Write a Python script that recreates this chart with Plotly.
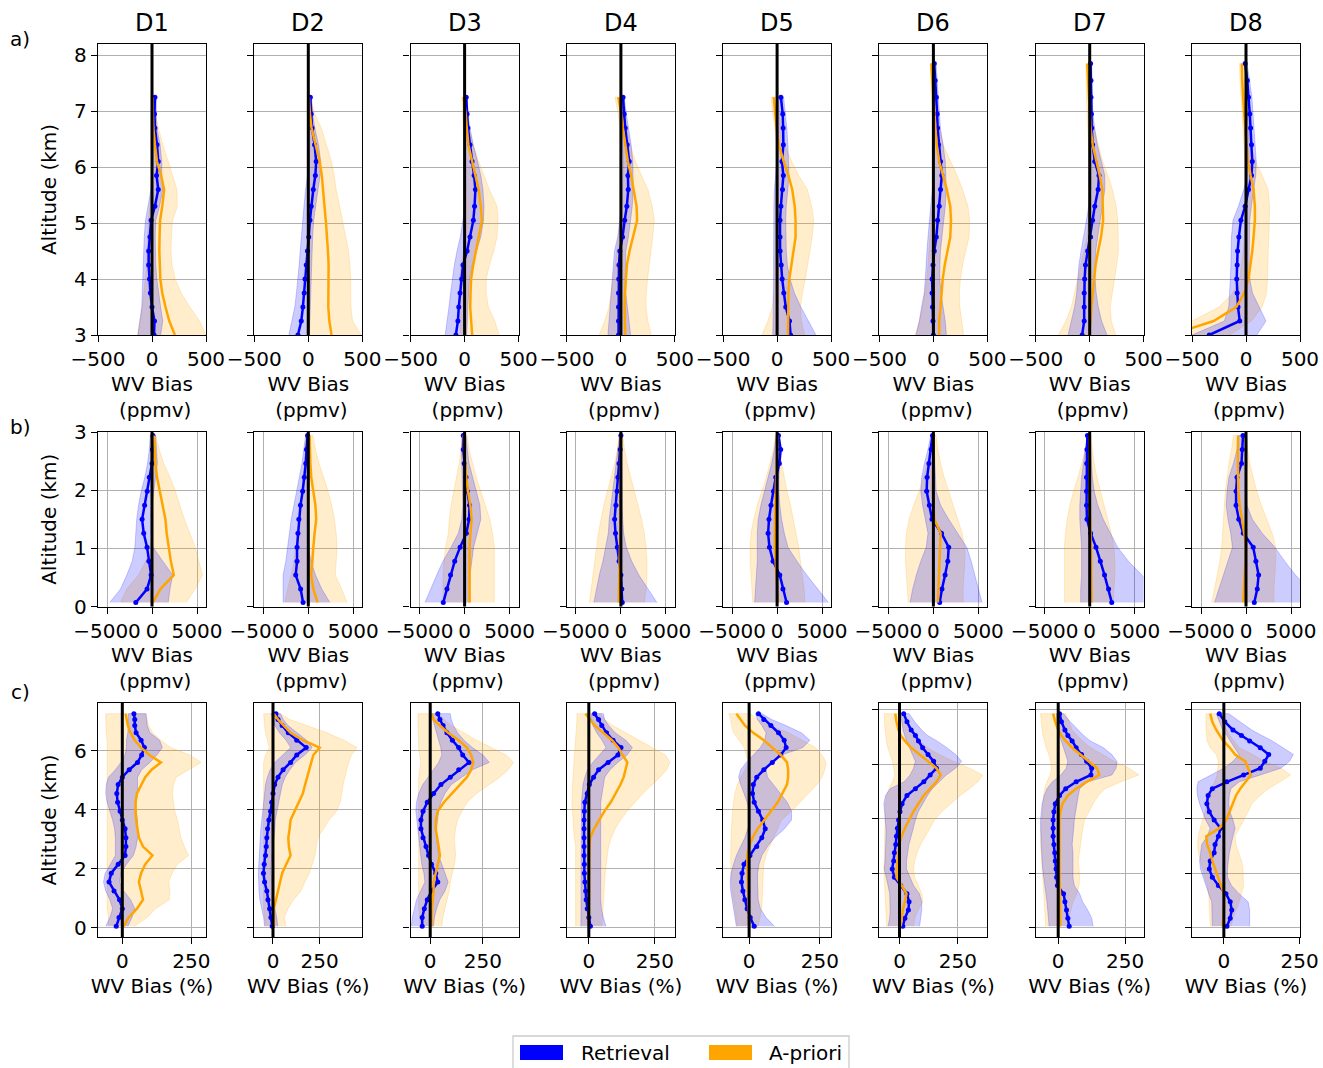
import plotly.graph_objects as go

# ---------------------------------------------------------------- data
DATASETS = ["D1", "D2", "D3", "D4", "D5", "D6", "D7", "D8"]
ROW_LABELS = ["a)", "b)", "c)"]
LEGEND_LABELS = ["Retrieval", "A-priori"]
X_TITLE_PPMV = "WV Bias<br>\u00a0(ppmv)"
X_TITLE_PCT = "WV Bias (%)"
Y_TITLE = "Altitude (km)"

ALT_A_SHORT = [3.0, 3.25, 3.5, 3.75, 4.0, 4.25, 4.5, 4.75, 5.05, 5.3, 5.6, 5.85, 6.1, 6.4, 6.7, 6.95, 7.25]
ALT_A_TALL = [3.0, 3.25, 3.5, 3.75, 4.0, 4.25, 4.5, 4.75, 5.05, 5.3, 5.6, 5.85, 6.1, 6.4, 6.7, 6.95, 7.25, 7.55, 7.85]
ALT_B = [0.07, 0.3, 0.54, 0.78, 1.02, 1.26, 1.5, 1.74, 1.98, 2.22, 2.46, 2.7, 2.94]
ALT_C_SHORT = [0.05, 0.35, 0.65, 0.95, 1.25, 1.55, 1.85, 2.15, 2.45, 2.75, 3.05, 3.35, 3.65, 3.95, 4.25,
               4.55, 4.85, 5.1, 5.35, 5.6, 5.85, 6.1, 6.35, 6.6, 6.85, 7.05, 7.25]
ALT_C_TALL = [0.05, 0.35, 0.65, 0.95, 1.25, 1.55, 1.85, 2.15, 2.45, 2.75, 3.05, 3.35, 3.65, 3.95, 4.25,
              4.55, 4.85, 5.1, 5.35, 5.6, 5.85, 6.1, 6.35, 6.6, 6.85, 7.05, 7.25, 7.55, 7.85]

# ---- row a : 3-8 km, ppmv
A1_RET = [19, 23, 0, -15, -23, -31, -31, -19, -8, 27, 58, 42, 58, 46, 27, 23, 27]
A1_RET_LO = [-130, -110, -95, -90, -85, -80, -78, -72, -60, -35, -10, 0, 10, 15, 10, 10, 12]
A1_RET_HI = [80, 100, 80, 60, 45, 35, 30, 30, 35, 70, 100, 90, 90, 75, 45, 40, 40]
A1_APR = [212, 160, 125, 95, 77, 70, 68, 70, 75, 95, 112, 85, 46, 27, 12, 8, 5]
A1_APR_LO = [-135, -110, -90, -75, -60, -50, -45, -40, -35, -20, -5, 0, 0, -5, -10, -10, -10]
A1_APR_HI = [500, 440, 350, 270, 215, 185, 175, 180, 190, 235, 230, 190, 150, 100, 60, 30, 15]

A2_RET = [-96, -65, -50, -38, -31, -19, -8, 4, 15, 27, 46, 65, 73, 58, 35, 27, 19]
A2_RET_LO = [-180, -150, -125, -110, -95, -85, -75, -65, -55, -40, -25, -10, 10, 15, 10, 5, 5]
A2_RET_HI = [10, 10, 15, 20, 25, 30, 35, 40, 50, 65, 90, 110, 115, 95, 60, 40, 30]
A2_APR = [215, 195, 185, 188, 190, 188, 182, 175, 162, 150, 140, 125, 105, 70, 30, 15, 5]
A2_APR_LO = [-20, -15, -5, 0, 5, 10, 10, 10, 10, 10, 10, 10, 10, 5, 0, 0, 0]
A2_APR_HI = [490, 410, 395, 393, 393, 385, 373, 350, 316, 290, 258, 240, 215, 165, 120, 60, 20]

A3_RET = [-81, -62, -54, -42, -27, -15, 23, 50, 81, 92, 100, 88, 69, 50, 31, 23, 15]
A3_RET_LO = [-180, -160, -145, -130, -115, -95, -70, -40, -15, 0, 10, 10, 10, 5, 5, 5, 5]
A3_RET_HI = [20, 25, 30, 35, 45, 70, 110, 150, 175, 180, 170, 150, 120, 80, 50, 30, 25]
A3_APR = [70, 58, 52, 55, 60, 80, 105, 135, 160, 150, 130, 100, 70, 35, 20, 10, -10]
A3_APR_LO = [-40, -40, -45, -45, -45, -30, -10, 10, 20, 20, 15, 5, 0, -5, -10, -20, -25]
A3_APR_HI = [320, 280, 220, 200, 200, 230, 270, 300, 310, 300, 230, 180, 130, 80, 40, 20, 10]

A4_RET = [-22, -22, -22, -22, -20, -18, -10, 15, 35, 55, 68, 65, 77, 58, 40, 30, 20]
A4_RET_LO = [-120, -110, -100, -90, -85, -75, -60, -30, -10, 5, 15, 20, 20, 15, 10, 10, 10]
A4_RET_HI = [90, 75, 60, 45, 40, 40, 45, 70, 90, 105, 115, 110, 110, 95, 70, 50, 30]
A4_APR = [40, 35, 35, 38, 45, 55, 80, 115, 150, 145, 120, 95, 65, 40, 18, 5, -25]
A4_APR_LO = [-200, -150, -110, -90, -70, -55, -40, -20, 0, 10, 10, 5, 0, -5, -10, -25, -55]
A4_APR_HI = [280, 250, 232, 235, 247, 262, 278, 295, 309, 290, 250, 190, 135, 85, 55, 30, 5]

A5_RET = [125, 115, 80, 62, 47, 38, 28, 27, 27, 35, 50, 58, 45, 58, 56, 52, 35]
A5_RET_LO = [-40, -35, -35, -35, -35, -35, -35, -35, -35, -30, -25, -15, -5, 10, 15, 15, 15]
A5_RET_HI = [360, 290, 220, 160, 120, 95, 85, 80, 80, 85, 100, 110, 105, 100, 90, 80, 60]
A5_APR = [101, 101, 101, 105, 113, 132, 152, 171, 171, 163, 140, 105, 62, 15, -4, -15, -31]
A5_APR_LO = [-140, -85, -45, -30, -23, -22, -22, -20, -18, -15, -10, -5, 0, -5, -20, -40, -55]
A5_APR_HI = [255, 225, 215, 235, 260, 285, 305, 325, 340, 320, 280, 200, 135, 70, 40, 20, 5]

A6_RET = [0, -4, -8, -12, -12, -4, 8, 27, 39, 54, 66, 78, 66, 47, 39, 35, 27, 16, 8]
A6_RET_LO = [-160, -130, -110, -85, -75, -70, -60, -50, -40, -25, -10, 0, 10, 10, 5, 0, 0, -5, -5]
A6_RET_HI = [120, 110, 90, 70, 60, 60, 65, 80, 95, 110, 120, 115, 110, 90, 65, 55, 45, 35, 25]
A6_APR = [54, 54, 66, 74, 86, 105, 132, 156, 163, 156, 124, 86, 54, 31, 16, 8, 0, -12, -19]
A6_APR_LO = [-170, -130, -100, -80, -60, -50, -40, -30, -20, -10, 0, 5, 5, 0, -5, -10, -15, -25, -30]
A6_APR_HI = [280, 260, 245, 240, 250, 270, 300, 330, 335, 320, 270, 220, 160, 90, 55, 35, 20, 10, 0]

A7_RET = [-70, -51, -51, -51, -47, -39, -19, 8, 27, 47, 78, 86, 47, 27, 19, 16, 12, 12, 8]
A7_RET_LO = [-200, -170, -140, -120, -110, -100, -80, -55, -30, -10, 10, 15, 10, 0, -5, -5, -5, -5, -5]
A7_RET_HI = [160, 110, 80, 60, 50, 50, 55, 75, 95, 115, 140, 140, 110, 70, 45, 30, 25, 20, 20]
A7_APR = [-8, 8, 16, 27, 39, 54, 78, 105, 124, 124, 117, 93, 66, 27, 8, 0, -8, -16, -23]
A7_APR_LO = [-290, -220, -170, -140, -110, -80, -50, -25, -10, 0, 5, 5, 0, -10, -20, -25, -30, -35, -35]
A7_APR_HI = [240, 200, 190, 210, 230, 250, 265, 265, 260, 245, 210, 170, 120, 80, 45, 25, 15, 5, 0]

A8_RET = [-340, -58, -74, -82, -86, -82, -78, -66, -47, -8, 23, 51, 58, 51, 43, 35, 23, 12, -8]
A8_RET_LO = [-500, -200, -160, -150, -145, -140, -140, -135, -120, -70, -20, 10, 20, 25, 20, 15, 5, -5, -15]
A8_RET_HI = [100, 185, 120, 60, 35, 30, 30, 30, 35, 50, 70, 90, 95, 85, 75, 65, 55, 35, 10]
A8_APR = [-700, -300, -90, -16, 23, 43, 58, 70, 82, 82, 70, 43, 19, 4, -8, -19, -27, -35, -39]
A8_APR_LO = [-900, -500, -250, -120, -60, -40, -25, -15, -5, 0, 0, 0, -10, -20, -30, -35, -45, -55, -60]
A8_APR_HI = [-150, 50, 150, 190, 200, 205, 206, 212, 218, 218, 205, 150, 90, 40, 20, 10, 0, -10, -20]

# ---- row b : 0-3 km, ppmv
B1_RET = [-1800, -550, -100, -350, -550, -920, -1100, -820, -530, -300, 0, 50, 100]
B1_RET_LO = [-4700, -3500, -2800, -2200, -1900, -1800, -1700, -1500, -1200, -800, -500, -300, -200]
B1_RET_HI = [1800, 2000, 2300, 1200, 100, -100, -200, 0, 200, 400, 600, 500, 400]
B1_APR = [93, 930, 2420, 2090, 1860, 1630, 1490, 1160, 840, 560, 370, 280, 230]
B1_APR_LO = [-3500, -2800, -1500, -700, -200, 0, 100, 0, -100, -200, -200, -150, -100]
B1_APR_HI = [3800, 4800, 5600, 5200, 4800, 4200, 3600, 3100, 2600, 2000, 1300, 800, 400]

B2_RET = [-580, -850, -1400, -1250, -1250, -1150, -1050, -870, -630, -450, -280, -200, -80]
B2_RET_LO = [-2800, -2800, -2800, -2500, -2300, -2100, -1900, -1600, -1300, -1000, -700, -500, -300]
B2_RET_HI = [2400, 1500, 800, 300, 0, -100, -100, -50, 50, 150, 200, 200, 150]
B2_APR = [1020, 560, 330, 420, 560, 700, 880, 790, 560, 330, 230, 190, 140]
B2_APR_LO = [-2600, -2300, -1900, -1600, -1400, -1200, -1000, -850, -700, -550, -400, -300, -200]
B2_APR_HI = [4300, 3700, 3000, 3100, 3200, 3100, 2900, 2600, 2200, 1700, 1200, 800, 500]

B3_RET = [-2370, -1960, -1560, -1100, -500, 200, 500, 550, 300, 150, -50, -150, -150]
B3_RET_LO = [-4400, -3800, -3100, -2400, -1500, -700, -300, -200, -250, -300, -350, -350, -300]
B3_RET_HI = [600, 600, 600, 800, 1000, 1400, 1800, 1700, 1300, 900, 500, 300, 150]
B3_APR = [550, 550, 550, 550, 560, 650, 780, 650, 370, 190, 50, -50, -90]
B3_APR_LO = [-2400, -2400, -2400, -2300, -2100, -1800, -1700, -1500, -1200, -900, -600, -400, -200]
B3_APR_HI = [3300, 3300, 3300, 3300, 3300, 3100, 2800, 2300, 1800, 1300, 900, 500, 300]

B4_RET = [150, 100, 0, -200, -400, -600, -700, -550, -420, -330, -200, -80, 0]
B4_RET_LO = [-3000, -2700, -2400, -2000, -1700, -1400, -1300, -1100, -900, -700, -500, -300, -150]
B4_RET_HI = [4000, 3000, 2000, 1200, 600, 300, 200, 150, 150, 150, 150, 100, 100]
B4_APR = [-250, -200, -150, -100, -80, -60, -50, -40, -30, -20, -10, 0, 0]
B4_APR_LO = [-3500, -3300, -3100, -2900, -2700, -2500, -2200, -1900, -1500, -1100, -700, -400, -200]
B4_APR_HI = [2600, 2800, 2900, 2900, 2800, 2600, 2300, 1900, 1500, 1100, 700, 400, 200]

B5_RET = [1050, 650, 300, -450, -850, -1000, -900, -680, -400, -150, 250, 400, 150]
B5_RET_LO = [-2500, -2400, -2300, -2200, -2200, -2200, -2100, -1800, -1400, -1000, -600, -300, -100]
B5_RET_HI = [5700, 4500, 3300, 2200, 1200, 800, 500, 300, 200, 200, 300, 400, 300]
B5_APR = [100, 0, -100, -200, -250, -250, -250, -200, -150, -100, -50, 0, 50]
B5_APR_LO = [-2700, -2800, -2900, -3000, -3000, -2900, -2600, -2200, -1700, -1200, -800, -400, -200]
B5_APR_HI = [3100, 3000, 2800, 2600, 2400, 2100, 1800, 1500, 1100, 800, 500, 300, 150]

B6_RET = [700, 950, 1300, 1600, 1700, 900, -150, -450, -750, -700, -500, -250, -100]
B6_RET_LO = [-2600, -2300, -1900, -1400, -800, -600, -900, -1200, -1400, -1300, -1000, -600, -300]
B6_RET_HI = [5400, 5000, 4600, 4200, 3700, 2700, 1700, 800, 300, 200, 150, 100, 50]
B6_APR = [500, 550, 600, 650, 700, 800, 100, 0, -50, -50, -20, 0, 20]
B6_APR_LO = [-2800, -2900, -3000, -3100, -3100, -3000, -2700, -2200, -1600, -1100, -700, -400, -200]
B6_APR_HI = [3300, 3300, 3400, 3500, 3500, 3200, 2700, 2200, 1700, 1200, 800, 500, 300]

B7_RET = [2450, 2100, 1650, 1180, 700, 100, -300, -350, -350, -350, -330, -300, -250]
B7_RET_LO = [-1000, -1000, -900, -900, -900, -1000, -1100, -1100, -1000, -900, -700, -500, -300]
B7_RET_HI = [8000, 7000, 5800, 4300, 3100, 2300, 1500, 900, 500, 300, 200, 100, 50]
B7_APR = [200, 200, 200, 200, 150, 100, 50, 0, -50, -50, -50, -30, 0]
B7_APR_LO = [-2800, -2800, -2800, -2800, -2800, -2700, -2500, -2200, -1800, -1300, -900, -500, -250]
B7_APR_HI = [2600, 2700, 2800, 2800, 2700, 2400, 2000, 1600, 1200, 800, 500, 300, 150]

B8_RET = [920, 1250, 1400, 1100, 800, -300, -800, -1100, -1100, -1000, -500, -420, -330]
B8_RET_LO = [-3500, -3000, -2500, -2000, -1500, -1700, -2000, -2200, -2100, -1900, -1400, -1000, -800]
B8_RET_HI = [8000, 7000, 5500, 4300, 3200, 1800, 700, 100, 0, 0, 100, 100, 100]
B8_APR = [-300, -250, -150, -50, 0, -200, -450, -700, -850, -900, -900, -900, -880]
B8_APR_LO = [-3800, -3500, -3200, -2900, -2700, -2600, -2500, -2400, -2300, -2100, -1900, -1600, -1400]
B8_APR_HI = [3100, 3100, 3200, 3300, 3300, 2900, 2300, 1700, 1200, 800, 400, 200, 0]

# ---- row c : 0-8 km, percent
C1_RET = [-22, -12, 0, -10, -30, -48, -40, -15, 10, 13, 13, 10, 0, -8, -17, -20, -15, 0, 25, 55, 70, 80, 68, 50, 45, 45, 42]
C1_RET_LO = [-60, -45, -35, -45, -60, -68, -62, -45, -25, -25, -25, -28, -35, -45, -55, -60, -58, -50, -25, -5, 10, 15, 15, 20, 22, 22, 22]
C1_RET_HI = [20, 35, 45, 30, 5, -10, -5, 15, 40, 50, 55, 55, 55, 50, 50, 55, 55, 55, 70, 100, 125, 145, 135, 100, 90, 88, 85]
C1_APR = [5, 23, 53, 75, 68, 60, 68, 83, 109, 75, 60, 55, 50, 48, 48, 53, 68, 83, 106, 140, 98, 68, 45, 30, 20, 15, 12]
C1_APR_LO = [-50, -50, -55, -55, -55, -55, -55, -55, -55, -55, -55, -55, -55, -55, -55, -55, -55, -55, -55, -55, -55, -55, -55, -58, -60, -60, -60]
C1_APR_HI = [45, 90, 120, 170, 172, 168, 180, 200, 240, 225, 212, 205, 200, 190, 185, 182, 185, 195, 240, 285, 245, 175, 140, 110, 95, 90, 88]

C2_RET = [-4, -11, -18, -27, -33, -45, -51, -47, -40, -36, -33, -29, -22, -13, -7, 0, 9, 27, 54, 94, 127, 178, 127, 82, 49, 27, 16]
C2_RET_LO = [-45, -50, -60, -70, -75, -78, -78, -76, -72, -70, -68, -65, -60, -55, -50, -45, -40, -30, -15, 10, 50, 95, 70, 35, 10, 0, -10]
C2_RET_HI = [25, 20, 10, 5, 0, -5, -10, -10, -5, 0, 5, 10, 12, 20, 30, 40, 50, 65, 90, 120, 170, 210, 180, 130, 80, 55, 40]
C2_APR = [4, 4, 4, 16, 27, 38, 49, 71, 94, 85, 82, 89, 94, 116, 138, 160, 172, 183, 194, 205, 216, 250, 160, 94, 54, 27, 4]
C2_APR_LO = [-40, -45, -50, -50, -50, -50, -50, -50, -50, -50, -50, -50, -50, -50, -50, -50, -50, -50, -50, -50, -40, -20, -30, -40, -45, -48, -50]
C2_APR_HI = [70, 60, 80, 110, 150, 170, 195, 210, 225, 232, 240, 270, 300, 340, 360, 368, 375, 385, 395, 405, 420, 450, 380, 290, 180, 90, 40]

C3_RET = [-38, -38, -28, -14, 6, 36, 26, 6, -8, -20, -34, -44, -44, -34, -14, 16, 51, 95, 135, 184, 154, 135, 105, 79, 61, 46, 36]
C3_RET_LO = [-90, -85, -75, -65, -45, -25, -30, -40, -45, -50, -55, -60, -65, -68, -65, -55, -35, -10, 15, 40, 55, 50, 40, 30, 20, 12, 8]
C3_RET_HI = [15, 20, 30, 45, 70, 85, 70, 55, 40, 35, 30, 30, 35, 40, 50, 70, 100, 150, 200, 280, 250, 200, 160, 130, 110, 100, 95]
C3_APR = [6, 6, 8, 12, 16, 16, 26, 36, 46, 40, 34, 26, 26, 36, 65, 105, 145, 174, 194, 204, 194, 174, 135, 85, 46, 16, 6]
C3_APR_LO = [-45, -50, -55, -55, -55, -55, -55, -55, -55, -55, -55, -55, -55, -55, -55, -55, -55, -55, -50, -45, -50, -55, -55, -58, -58, -58, -58]
C3_APR_HI = [55, 60, 70, 80, 90, 95, 105, 115, 120, 118, 115, 120, 130, 150, 175, 220, 280, 330, 370, 395, 360, 290, 220, 160, 100, 65, 40]

C4_RET = [6, 0, -6, -10, -12, -15, -17, -17, -18, -18, -18, -18, -18, -17, -15, -6, 2, 18, 37, 73, 110, 122, 92, 67, 49, 37, 22]
C4_RET_LO = [-30, -30, -30, -30, -30, -30, -30, -30, -30, -30, -30, -30, -30, -30, -28, -25, -22, -15, -5, 15, 40, 65, 50, 30, 15, 10, 10]
C4_RET_HI = [65, 55, 48, 45, 45, 45, 45, 45, 45, 45, 45, 45, 45, 45, 45, 50, 55, 60, 80, 110, 145, 165, 140, 100, 75, 60, 55]
C4_APR = [0, 0, 0, 0, 0, 0, 0, 1, 2, 3, 5, 20, 38, 59, 83, 102, 120, 132, 140, 146, 128, 112, 88, 55, 22, 5, -13]
C4_APR_LO = [-50, -50, -50, -50, -50, -50, -50, -50, -50, -50, -55, -58, -60, -62, -64, -64, -62, -60, -58, -55, -52, -50, -50, -48, -46, -45, -45]
C4_APR_HI = [50, 52, 55, 56, 58, 60, 62, 65, 70, 75, 85, 100, 120, 145, 175, 205, 240, 270, 295, 307, 290, 240, 190, 140, 90, 60, 45]

C5_RET = [18, 4, -7, -15, -22, -27, -25, -18, 3, 27, 45, 57, 48, 33, 18, 12, 15, 27, 52, 82, 112, 131, 124, 104, 77, 52, 33]
C5_RET_LO = [-45, -50, -55, -60, -65, -67, -64, -55, -45, -30, -15, -5, 5, 0, -7, -18, -30, -37, -30, -10, 15, 40, 55, 60, 45, 30, 22]
C5_RET_HI = [90, 60, 40, 32, 30, 30, 30, 35, 45, 65, 90, 125, 150, 150, 135, 110, 85, 65, 60, 75, 115, 190, 215, 185, 130, 80, 45]
C5_APR = [0, -1, -2, -3, -4, -5, -5, -5, -7, 0, 12, 30, 52, 77, 101, 119, 134, 138, 138, 134, 112, 82, 52, 15, -15, -30, -45]
C5_APR_LO = [-42, -45, -50, -55, -60, -62, -64, -65, -65, -65, -65, -63, -60, -59, -55, -50, -42, -30, -15, -3, -10, -18, -35, -55, -62, -65, -72]
C5_APR_HI = [32, 38, 45, 48, 49, 49, 50, 52, 60, 72, 85, 100, 115, 150, 180, 210, 240, 258, 268, 272, 258, 235, 190, 140, 70, 30, 5]

C6_RET = [14, 23, 38, 41, 32, 5, -22, -31, -25, -22, -16, -13, -9, -4, 2, 11, 32, 68, 104, 131, 158, 146, 122, 99, 81, 68, 50, 32, 18]
C6_RET_LO = [-49, -42, -40, -40, -42, -49, -58, -65, -62, -60, -58, -58, -58, -60, -63, -67, -60, -40, 20, 45, 60, 68, 55, 41, 30, 22, 15, 10, 5]
C6_RET_HI = [86, 90, 95, 95, 85, 60, 45, 30, 30, 35, 40, 50, 60, 68, 80, 100, 120, 140, 170, 200, 240, 266, 240, 203, 160, 120, 95, 65, 41]
C6_APR = [5, 9, 14, 23, 30, 9, -13, -13, -9, -4, 0, 9, 23, 41, 59, 81, 104, 131, 158, 176, 158, 122, 86, 50, 23, 5, -4, -13, -18]
C6_APR_LO = [-55, -57, -58, -60, -62, -65, -67, -67, -66, -65, -65, -64, -63, -62, -61, -60, -55, -45, -30, -20, -25, -30, -40, -50, -56, -60, -62, -64, -65]
C6_APR_HI = [60, 65, 80, 100, 95, 80, 65, 60, 65, 75, 90, 110, 130, 150, 180, 220, 260, 300, 335, 355, 300, 230, 170, 120, 85, 65, 50, 35, 20]

C7_RET = [41, 36, 31, 25, 20, -3, -6, -8, -11, -13, -16, -19, -19, -19, -16, -11, 5, 28, 67, 122, 125, 106, 87, 67, 52, 36, 25, 12, 5]
C7_RET_LO = [-34, -36, -38, -42, -46, -50, -55, -58, -60, -62, -64, -65, -66, -66, -64, -60, -52, -42, -22, 10, 30, 36, 28, 20, 10, 4, -2, -5, -6]
C7_RET_HI = [130, 125, 110, 91, 80, 60, 55, 55, 55, 55, 52, 55, 58, 60, 65, 70, 75, 80, 110, 200, 216, 219, 200, 169, 120, 95, 75, 45, 20]
C7_APR = [8, 8, 7, 7, 6, 6, 5, 5, 5, 5, 5, 3, 3, 5, 8, 16, 36, 67, 106, 153, 145, 114, 83, 52, 28, 12, 0, -11, -19]
C7_APR_LO = [-47, -48, -50, -52, -54, -56, -58, -60, -62, -64, -66, -65, -63, -62, -60, -58, -55, -50, -42, -30, -25, -28, -35, -45, -52, -57, -60, -64, -66]
C7_APR_HI = [36, 40, 48, 55, 70, 78, 80, 78, 75, 78, 83, 88, 92, 98, 115, 130, 150, 175, 235, 301, 265, 208, 165, 122, 90, 70, 52, 40, 28]

C8_RET = [10, 21, 26, 21, 7, -18, -38, -48, -45, -32, -29, -18, -11, -32, -48, -56, -52, -38, 10, 65, 120, 135, 148, 120, 85, 58, 30, 3, -15]
C8_RET_LO = [-38, -38, -38, -40, -50, -59, -70, -77, -80, -76, -73, -55, -45, -60, -70, -80, -87, -89, -85, -45, 0, 30, 50, 35, 22, 10, -4, -15, -25]
C8_RET_HI = [85, 85, 85, 80, 50, 25, 12, 12, 15, 18, 23, 30, 37, 30, 20, 16, 18, 23, 51, 120, 188, 216, 229, 195, 160, 125, 92, 55, 16]
C8_APR = [-4, -2, 0, 2, 0, -10, -20, -30, -38, -45, -55, -58, -15, 8, 18, 28, 40, 54, 70, 89, 80, 71, 37, 20, -2, -15, -25, -38, -45]
C8_APR_LO = [-45, -46, -47, -48, -50, -55, -62, -70, -78, -84, -87, -84, -78, -70, -62, -55, -48, -40, -30, -22, -20, -18, -25, -45, -55, -58, -59, -59, -59]
C8_APR_HI = [23, 30, 40, 51, 58, 65, 65, 63, 58, 50, 40, 37, 50, 65, 80, 92, 120, 147, 185, 220, 190, 133, 95, 51, 35, 20, 10, -5, -18]

# ---- axis ticks (data values)
TICKS_A_X = [-500, 0, 500]
TICKS_A_Y = [3, 4, 5, 6, 7, 8]
TICKS_B_X = [-5000, 0, 5000]
TICKS_B_Y = [0, 1, 2, 3]
TICKS_C_X = [0, 250]
TICKS_C_Y = [0, 2, 4, 6, 8]

# ---------------------------------------------------------------- assembly
ROW_A = [
    (A1_RET, A1_RET_LO, A1_RET_HI, A1_APR, A1_APR_LO, A1_APR_HI),
    (A2_RET, A2_RET_LO, A2_RET_HI, A2_APR, A2_APR_LO, A2_APR_HI),
    (A3_RET, A3_RET_LO, A3_RET_HI, A3_APR, A3_APR_LO, A3_APR_HI),
    (A4_RET, A4_RET_LO, A4_RET_HI, A4_APR, A4_APR_LO, A4_APR_HI),
    (A5_RET, A5_RET_LO, A5_RET_HI, A5_APR, A5_APR_LO, A5_APR_HI),
    (A6_RET, A6_RET_LO, A6_RET_HI, A6_APR, A6_APR_LO, A6_APR_HI),
    (A7_RET, A7_RET_LO, A7_RET_HI, A7_APR, A7_APR_LO, A7_APR_HI),
    (A8_RET, A8_RET_LO, A8_RET_HI, A8_APR, A8_APR_LO, A8_APR_HI),
]
ROW_B = [
    (B1_RET, B1_RET_LO, B1_RET_HI, B1_APR, B1_APR_LO, B1_APR_HI),
    (B2_RET, B2_RET_LO, B2_RET_HI, B2_APR, B2_APR_LO, B2_APR_HI),
    (B3_RET, B3_RET_LO, B3_RET_HI, B3_APR, B3_APR_LO, B3_APR_HI),
    (B4_RET, B4_RET_LO, B4_RET_HI, B4_APR, B4_APR_LO, B4_APR_HI),
    (B5_RET, B5_RET_LO, B5_RET_HI, B5_APR, B5_APR_LO, B5_APR_HI),
    (B6_RET, B6_RET_LO, B6_RET_HI, B6_APR, B6_APR_LO, B6_APR_HI),
    (B7_RET, B7_RET_LO, B7_RET_HI, B7_APR, B7_APR_LO, B7_APR_HI),
    (B8_RET, B8_RET_LO, B8_RET_HI, B8_APR, B8_APR_LO, B8_APR_HI),
]
ROW_C = [
    (C1_RET, C1_RET_LO, C1_RET_HI, C1_APR, C1_APR_LO, C1_APR_HI),
    (C2_RET, C2_RET_LO, C2_RET_HI, C2_APR, C2_APR_LO, C2_APR_HI),
    (C3_RET, C3_RET_LO, C3_RET_HI, C3_APR, C3_APR_LO, C3_APR_HI),
    (C4_RET, C4_RET_LO, C4_RET_HI, C4_APR, C4_APR_LO, C4_APR_HI),
    (C5_RET, C5_RET_LO, C5_RET_HI, C5_APR, C5_APR_LO, C5_APR_HI),
    (C6_RET, C6_RET_LO, C6_RET_HI, C6_APR, C6_APR_LO, C6_APR_HI),
    (C7_RET, C7_RET_LO, C7_RET_HI, C7_APR, C7_APR_LO, C7_APR_HI),
    (C8_RET, C8_RET_LO, C8_RET_HI, C8_APR, C8_APR_LO, C8_APR_HI),
]
ROWS = [ROW_A, ROW_B, ROW_C]
ALTS = [
    [ALT_A_SHORT] * 5 + [ALT_A_TALL] * 3,
    [ALT_B] * 8,
    [ALT_C_SHORT] * 5 + [ALT_C_TALL] * 3,
]

# ---------------------------------------------------------------- layout / style
W, H = 1323, 1068
FONT = "DejaVu Sans"
BLUE, ORANGE = "#0000ff", "#ffa500"
BLUE_FILL, ORANGE_FILL = "rgba(0,0,255,0.2)", "rgba(255,165,0,0.2)"
GRID = "#b0b0b0"

PANEL_LEFT = [98, 254.3, 410.6, 566.9, 723.1, 879.4, 1035.7, 1192]
PANEL_W = 108
ROW_PIX = [(44, 335), (432, 606.5), (703, 937)]  # top, bottom (px from top)
X_RANGES = [
    [[-500, 500]] * 8,
    [[-6000, 6000]] * 8,
    [[-88, 303], [-100, 478], [-93, 419], [-83, 326], [-92, 290], [-86, 376], [-84, 319], [-105, 251]],
]
Y_RANGES = [
    [[3, 8.2]] * 8,
    [[0, 3]] * 8,
    [[-0.31, 7.61]] * 5 + [[-0.34, 8.24]] * 3,
]
X_TICKS = [TICKS_A_X, TICKS_B_X, TICKS_C_X]
Y_TICKS = [TICKS_A_Y, TICKS_B_Y, TICKS_C_Y]
X_TITLES = [X_TITLE_PPMV, X_TITLE_PPMV, X_TITLE_PCT]

fig = go.Figure()
layout = dict(
    width=W, height=H, autosize=False,
    margin=dict(l=0, r=0, t=0, b=0),
    paper_bgcolor="white", plot_bgcolor="white",
    showlegend=False,
    font=dict(family=FONT, size=20, color="black"),
)
shapes = []
annotations = []

for r in range(3):
    for c in range(8):
        k = r * 8 + c + 1
        xs = "x" if k == 1 else f"x{k}"
        ys = "y" if k == 1 else f"y{k}"
        alt = ALTS[r][c]
        ret, rlo, rhi, apr, alo, ahi = ROWS[r][c]

        fig.add_trace(go.Scatter(
            x=alo + ahi[::-1], y=alt + alt[::-1], fill="toself", fillcolor=ORANGE_FILL,
            mode="lines", line=dict(color=ORANGE_FILL, width=1),
            xaxis=xs, yaxis=ys, hoverinfo="skip", name=LEGEND_LABELS[1]))
        fig.add_trace(go.Scatter(
            x=rlo + rhi[::-1], y=alt + alt[::-1], fill="toself", fillcolor=BLUE_FILL,
            mode="lines", line=dict(color=BLUE_FILL, width=1),
            xaxis=xs, yaxis=ys, hoverinfo="skip", name=LEGEND_LABELS[0]))
        fig.add_trace(go.Scatter(
            x=ret, y=alt, mode="lines+markers",
            line=dict(color=BLUE, width=2.5), marker=dict(color=BLUE, size=5),
            xaxis=xs, yaxis=ys, name=LEGEND_LABELS[0]))
        fig.add_trace(go.Scatter(
            x=apr, y=alt, mode="lines", line=dict(color=ORANGE, width=2.5),
            xaxis=xs, yaxis=ys, name=LEGEND_LABELS[1]))

        x0 = PANEL_LEFT[c]
        top, bot = ROW_PIX[r]
        axis_common = dict(
            showgrid=True, gridcolor=GRID, gridwidth=1.3, zeroline=False,
            showline=True, linecolor="black", linewidth=1.3, mirror=True,
            ticks="outside", ticklen=6, tickwidth=1.3, tickcolor="black",
            tickfont=dict(family=FONT, size=20, color="black"),
            automargin=False, fixedrange=True,
        )
        xkey = "xaxis" if k == 1 else f"xaxis{k}"
        ykey = "yaxis" if k == 1 else f"yaxis{k}"
        layout[xkey] = dict(
            axis_common, domain=[x0 / W, (x0 + PANEL_W) / W], anchor=ys,
            range=X_RANGES[r][c], tickmode="array", tickvals=X_TICKS[r], tickangle=0,
            title=dict(text=X_TITLES[r], standoff=6, font=dict(family=FONT, size=20)),
        )
        ydict = dict(
            axis_common, domain=[1 - bot / H, 1 - top / H], anchor=xs,
            range=Y_RANGES[r][c], tickmode="array", tickvals=Y_TICKS[r],
            showticklabels=(c == 0),
        )
        if c == 0:
            ydict["title"] = dict(text=Y_TITLE, standoff=12, font=dict(family=FONT, size=20))
        layout[ykey] = ydict

        # vertical zero line drawn on top
        shapes.append(dict(type="line", xref=xs, yref=f"{ys} domain", x0=0, x1=0, y0=0, y1=1,
                           line=dict(color="black", width=3), layer="above"))

# column titles
for c, name in enumerate(DATASETS):
    annotations.append(dict(text=name, x=(PANEL_LEFT[c] + PANEL_W / 2) / W, y=1 - 23 / H,
                            xref="paper", yref="paper", xanchor="center", yanchor="middle",
                            showarrow=False, font=dict(family=FONT, size=24, color="black")))
# row labels
for lab, py in zip(ROW_LABELS, [39, 427, 692]):
    annotations.append(dict(text=lab, x=20 / W, y=1 - py / H, xref="paper", yref="paper",
                            xanchor="center", yanchor="middle", showarrow=False,
                            font=dict(family=FONT, size=20, color="black")))

# legend (bottom centre)
shapes.append(dict(type="rect", xref="paper", yref="paper", x0=513 / W, x1=849 / W,
                   y0=1 - 1085 / H, y1=1 - 1036 / H, line=dict(color="#cccccc", width=1.3),
                   fillcolor="white", layer="above"))
for col, px0, tx, lab in [(BLUE, 520, 579, LEGEND_LABELS[0]), (ORANGE, 709, 767, LEGEND_LABELS[1])]:
    shapes.append(dict(type="rect", xref="paper", yref="paper", x0=px0 / W, x1=(px0 + 43) / W,
                       y0=1 - 1060 / H, y1=1 - 1045 / H, line=dict(width=0), fillcolor=col,
                       layer="above"))
    annotations.append(dict(text=lab, x=tx / W, y=1 - 1053 / H, xref="paper", yref="paper",
                            xanchor="left", yanchor="middle", showarrow=False,
                            font=dict(family=FONT, size=20, color="black")))

layout["shapes"] = shapes
layout["annotations"] = annotations
fig.update_layout(**layout)
fig.write_html("out.html", config={"displayModeBar": False})
